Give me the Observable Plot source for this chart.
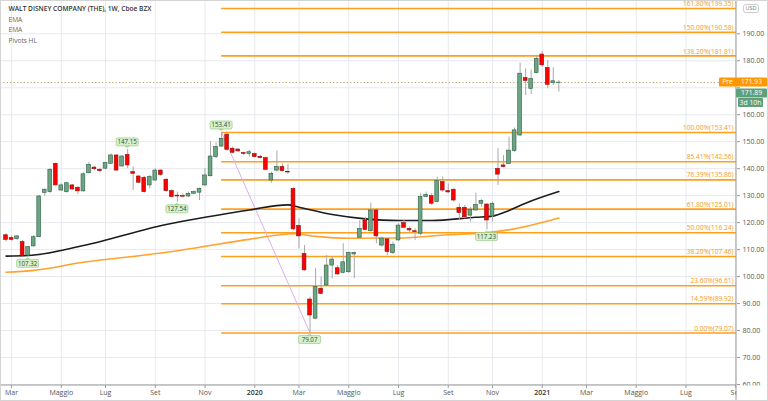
<!DOCTYPE html>
<html><head><meta charset="utf-8">
<script src="https://cdn.jsdelivr.net/npm/d3@7"></script>
<script src="https://cdn.jsdelivr.net/npm/@observablehq/plot@0.6"></script>
<style>
body{margin:0;background:#fff;}
#chart svg{display:block;outline:1px solid #d4d4d4;outline-offset:-1px;}
</style></head><body><div id="chart"></div>
<script>
// Weekly candles, first bar week of 2019-02-25
const firstBar = new Date(Date.UTC(2019, 1, 25));
const open = [115.3,114.3,113.9,112.8,107.8,111.2,114.6,131.0,131.3,141.8,
131.9,131.3,133.8,132.9,131.6,138.3,140.4,139.6,140.0,141.8,
144.9,140.8,145.1,138.7,137.1,136.6,133.8,135.6,139.3,135.9,
131.7,130.0,129.8,129.7,130.7,131.1,133.8,137.2,144.3,148.2,
152.6,147.4,147.1,145.8,145.5,145.4,144.4,143.9,135.6,139.3,
140.6,138.8,132.5,118.8,108.4,91.5,84.4,95.5,96.7,104.1,
103.1,101.4,101.6,108.2,114.4,120.8,116.8,124.5,111.5,113.8,
108.7,113.4,119.8,117.7,116.8,115.9,129.5,129.8,127.6,135.0,
131.7,132.2,125.5,125.5,122.6,124.5,127.0,126.7,122.3,139.9,
141.2,141.8,146.5,152.3,173.6,169.6,175.4,182.3,177.3,171.7,171.7];
const high = [115.9,114.9,115.2,113.4,111.2,115.2,130.1,132.5,140.0,142.1,
134.4,135.0,134.1,133.4,138.5,142.4,140.8,140.2,142.4,145.5,
145.1,144.9,147.15,140.6,137.5,137.1,137.5,140.0,139.6,136.3,
132.2,131.3,130.7,131.3,131.7,132.8,140.0,150.0,149.6,153.41,
152.9,148.0,147.4,146.1,146.8,145.8,144.9,144.3,138.7,146.5,
141.8,141.6,132.9,121.4,111.5,92.4,102.9,99.8,107.8,107.2,
104.1,112.2,109.1,109.1,120.8,122.0,127.2,125.1,114.6,114.0,
112.8,119.6,120.8,118.3,117.7,130.7,131.3,130.7,136.9,136.9,
134.4,132.5,127.0,126.4,125.7,130.9,128.5,127.0,127.6,147.4,
144.9,151.7,155.1,179.1,177.0,176.6,182.0,183.4,180.1,177.4,172.7];
const low = [112.8,113.1,113.4,107.5,107.32,110.9,114.4,129.7,130.9,133.7,
131.7,130.9,131.9,130.4,131.3,138.1,139.3,138.4,139.6,141.8,
139.1,140.6,140.0,131.9,134.4,130.9,132.5,135.4,137.1,131.3,
129.2,127.54,129.2,129.2,130.4,128.2,133.4,136.9,143.7,148.0,
146.5,145.5,146.1,144.9,144.3,144.0,143.7,139.3,134.6,138.7,
138.7,137.9,117.1,110.3,102.0,79.07,84.0,93.4,96.3,99.2,
100.4,101.0,101.3,99.2,114.0,117.1,116.5,112.2,110.9,107.8,
108.2,113.1,117.7,115.9,113.4,115.2,129.2,126.4,127.4,131.3,
130.7,127.6,120.8,121.4,120.2,124.3,125.7,117.23,120.2,133.8,
140.3,141.5,146.1,151.9,167.1,167.5,175.2,177.6,169.6,170.8,168.4];
const close = [113.6,113.6,114.9,107.7,110.9,114.6,129.7,132.2,139.6,133.8,
133.8,134.6,132.3,131.6,137.9,141.4,139.8,139.1,142.1,144.9,
139.3,144.5,141.2,138.1,134.8,131.3,136.9,139.3,137.7,131.7,
129.5,129.7,129.6,130.7,131.3,132.4,137.5,144.5,148.0,151.1,
147.0,145.9,146.4,145.5,146.1,144.3,143.9,139.6,138.1,140.6,
139.1,138.6,117.5,114.9,102.3,85.6,96.1,93.6,104.1,106.3,
100.8,105.3,108.8,108.7,117.7,117.3,124.5,114.9,114.1,109.1,
111.8,118.9,118.1,117.1,116.5,129.5,130.3,127.0,135.4,131.9,
131.2,128.2,123.6,122.0,124.8,126.5,128.0,120.8,127.0,137.8,
140.6,146.7,154.2,175.2,172.5,173.3,180.7,178.3,171.1,172.4,171.89];

// EMA readings (bar number, value)
const emaBlackBar = [1,5,15,30,37,45,52,54,60,66,72,78,86,89,92,95,101];
const emaBlackVal = [107.6,107.8,111.5,119.3,122.0,124.7,126.6,125.7,123.0,121.4,120.8,120.8,122.0,122.4,124.5,127.2,131.5];
const emaOrangeBar = [1,6,15,30,36,45,53,57,63,72,81,87,93,101];
const emaOrangeVal = [101.6,102.3,105.3,109.0,110.9,113.8,115.9,114.9,114.2,114.3,115.5,116.1,117.7,121.7];

// Pivots HL
const pivotBar = [5,23,32,40,56,88];
const pivotVal = [107.32,147.15,127.54,153.41,79.07,117.23];
const pivotKind = ["low","high","low","high","low","low"];

// Fibonacci retracement (from bar 40 high to bar 56 low)
const fibPct = ["0.00%","14.59%","23.60%","38.20%","50.00%","61.80%","76.39%","85.41%","100.00%","138.20%","150.00%","161.80%"];
const fibVal = [79.07,89.92,96.61,107.46,116.24,125.01,135.86,142.56,153.41,181.81,190.58,199.35];

// Axes
const xTickDates = ["2019-03-04","2019-05-06","2019-07-01","2019-09-02","2019-11-04","2020-01-06","2020-03-02","2020-05-04","2020-07-06","2020-09-07","2020-11-02","2021-01-04","2021-03-01","2021-05-03","2021-07-05","2021-09-06"];
const xTickLabels = ["Mar","Maggio","Lug","Set","Nov","2020","Mar","Maggio","Lug","Set","Nov","2021","Mar","Maggio","Lug","Set"];
const yTicks = [60,70,80,90,100,110,120,130,140,150,160,170,180,190];
const yHiddenLabel = 170; // covered by the price tags in the original

const titleLines = ["WALT DISNEY COMPANY (THE), 1W, Cboe BZX","EMA","EMA","Pivots HL"];
const prePrice = 171.93;
const lastPrice = 171.89;
const countdown = "3d 10h";

const barDate = i => d3.utcWeek.offset(firstBar, i - 1);
const candles = open.map((o, i) => ({date: barDate(i + 1), open: o, high: high[i], low: low[i], close: close[i], up: close[i] >= o}));
const emaB = emaBlackBar.map((b, i) => ({date: barDate(b), v: emaBlackVal[i]}));
const emaO = emaOrangeBar.map((b, i) => ({date: barDate(b), v: emaOrangeVal[i]}));
const pivots = pivotBar.map((b, i) => ({date: barDate(b), v: pivotVal[i], kind: pivotKind[i], label: pivotVal[i].toFixed(2)}));
const fibs = fibPct.map((p, i) => ({v: fibVal[i], label: `${p}(${fibVal[i].toFixed(2)})`}));
const tickDates = xTickDates.map(s => new Date(s + "T00:00:00Z"));
const tickMap = new Map(tickDates.map((d, i) => [+d, xTickLabels[i]]));
const xDomain = [new Date(Date.UTC(2019, 1, 18)), new Date(Date.UTC(2021, 8, 7))];
const fibStart = barDate(40);
const halfBody = 2.4 * 864e5;
const font = "'Open Sans', 'Liberation Sans', sans-serif";
const legendDy = [8, 19, 29.5, 40];

const chart = Plot.plot({
  width: 768, height: 401,
  marginLeft: 0, marginRight: 32, marginTop: 0, marginBottom: 16,
  style: {fontFamily: font, fontSize: "7px", color: "#4a4a4a", background: "#fff"},
  x: {type: "utc", domain: xDomain, label: null},
  y: {domain: [59.63, 202.34], label: null},
  marks: [
    Plot.gridX(tickDates, {stroke: "#e6e9ee", strokeOpacity: 1}),
    Plot.gridY(yTicks, {stroke: "#e6e9ee", strokeOpacity: 1}),
    Plot.axisX({ticks: tickDates, tickFormat: d => tickMap.get(+d) ?? "", tickSize: 3, tickPadding: 2, stroke: "#9a9a9a", fill: "#555"}),
    Plot.axisY({anchor: "right", ticks: yTicks, tickFormat: d => d === yHiddenLabel ? "" : d.toFixed(2), tickSize: 3, tickPadding: 3, stroke: "#9a9a9a", fill: "#555"}),
    Plot.ruleY([prePrice], {stroke: "#b89a62", strokeDasharray: "1.2,2.2", strokeWidth: 1}),
    // Fibonacci lines and labels
    Plot.ruleY(fibs, {y: "v", x1: fibStart, x2: xDomain[1], stroke: "#ff9f1c", strokeWidth: 1.6}),
    Plot.text(fibs, {y: "v", frameAnchor: "right", text: "label", textAnchor: "end", dx: -3, dy: -4.5, fill: "#f39a24", fontSize: 6.6}),
    // Pivot connecting line
    Plot.line([pivots[3], pivots[4]], {x: "date", y: "v", stroke: "#dcaee8", strokeWidth: 1}),
    // EMAs
    Plot.line(emaO, {x: "date", y: "v", stroke: "#ffa330", strokeWidth: 1.6, curve: "monotone-x"}),
    Plot.line(emaB, {x: "date", y: "v", stroke: "#1c1c1c", strokeWidth: 1.6, curve: "monotone-x"}),
    // Candles
    Plot.ruleX(candles, {x: "date", y1: "low", y2: "high", stroke: "#a8a8a8", strokeWidth: 1}),
    Plot.rect(candles, {
      x1: d => new Date(+d.date - halfBody), x2: d => new Date(+d.date + halfBody),
      y1: "open", y2: "close",
      fill: d => d.up ? "#6ba583" : "#ff0000",
      stroke: d => d.up ? "#2c5e41" : "#8c1010", strokeWidth: 0.6
    }),
    // Legend
    ...titleLines.map((t, i) => Plot.text([t], {text: d => d, frameAnchor: "top-left", dx: 8, dy: legendDy[i], lineAnchor: "middle", textAnchor: "start", fill: i === 0 ? "#333" : "#666", fontWeight: i === 0 ? 600 : 400, fontSize: 6.6}))
  ]
});

document.getElementById("chart").append(chart);

const svg = d3.select(chart);
const sx = chart.scale("x");
const sy = chart.scale("y");

// Pivot label boxes, positioned with the chart's scales
pivots.forEach(p => {
  const px = sx.apply(p.date), py = sy.apply(p.v);
  const dir = p.kind === "high" ? -1 : 1;
  const cy = py + dir * 7;
  const w = 22, h = 8;
  const g = svg.append("g");
  g.append("path").attr("d", `M${px - 2},${cy - dir * h / 2} L${px},${py + dir * 1.5} L${px + 2},${cy - dir * h / 2} Z`).attr("fill", "#d8f0cc").attr("stroke", "#8cc278").attr("stroke-width", 0.6);
  g.append("rect").attr("x", px - w / 2).attr("y", cy - h / 2).attr("width", w).attr("height", h).attr("rx", 1.5)
    .attr("fill", "#d8f0cc").attr("stroke", "#8cc278").attr("stroke-width", 0.6);
  g.append("text").attr("x", px).attr("y", cy).attr("dy", "0.35em").attr("text-anchor", "middle")
    .attr("font-family", font).attr("font-size", 6.2).attr("fill", "#2f4f2f").text(p.label);
});

// cover the clipped corner and draw pane separators
svg.append("rect").attr("x", 736.5).attr("y", 385.5).attr("width", 32).attr("height", 16).attr("fill", "#fff");
svg.append("line").attr("x1", 736).attr("x2", 736).attr("y1", 0).attr("y2", 401).attr("stroke", "#9a9a9a");
svg.append("line").attr("x1", 0).attr("x2", 736).attr("y1", 385).attr("y2", 385).attr("stroke", "#9a9a9a");
svg.selectAll("text").filter(function() { return this.textContent === "2020" || this.textContent === "2021"; }).attr("font-weight", 600).attr("fill", "#333");

const tag = (x, y, w, h, fill, txt, color) => {
  svg.append("rect").attr("x", x).attr("y", y - h / 2).attr("width", w).attr("height", h).attr("fill", fill).attr("rx", 1);
  svg.append("text").attr("x", x + w / 2).attr("y", y).attr("dy", "0.35em").attr("text-anchor", "middle")
    .attr("font-family", font).attr("font-size", 6.8).attr("fill", color).text(txt);
};
const yPre = sy.apply(prePrice);
tag(719, yPre, 17, 9, "#ff9800", "Pre", "#fff");
tag(736, yPre, 31, 9, "#ff9800", prePrice.toFixed(2), "#fff");
tag(736, yPre + 11, 31, 9, "#5f9f7c", lastPrice.toFixed(2), "#fff");
tag(738, yPre + 20.5, 25, 9, "#5f9f7c", countdown, "#fff");
// USD badge
svg.append("rect").attr("x", 743.5).attr("y", 4.5).attr("width", 15).attr("height", 8).attr("rx", 2).attr("fill", "#fff").attr("stroke", "#ccc");
svg.append("text").attr("x", 751).attr("y", 8.5).attr("dy", "0.35em").attr("text-anchor", "middle").attr("font-family", font).attr("font-size", 5.5).attr("fill", "#777").text("USD");
</script></body></html>
